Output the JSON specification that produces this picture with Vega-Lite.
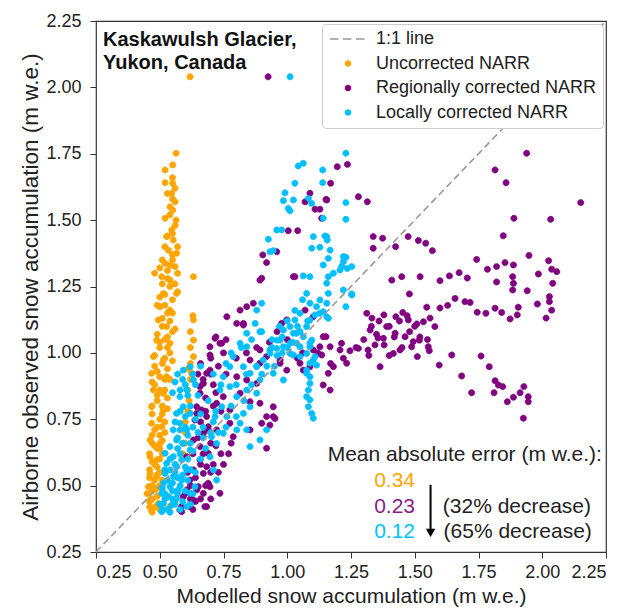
{
  "$schema": "https://vega.github.io/schema/vega-lite/v6.json",
  "width": 510,
  "height": 531,
  "autosize": "none",
  "padding": {"left": 96, "top": 21, "right": 20, "bottom": 57},
  "config": {
    "font": "Liberation Sans",
    "view": {"stroke": "#333333", "strokeWidth": 1.2},
    "axis": {
      "grid": false, "domain": false, "ticks": true, "tickSize": 6, "tickColor": "#333333",
      "labelFontSize": 18, "labelColor": "#222222", "titleColor": "#222222",
      "titleFontWeight": "normal", "labelFont": "Liberation Sans", "titleFont": "Liberation Sans"
    }
  },
  "datasets": {
    "pts": [
      {"s":"Uncorrected NARR","x":0.564,"y":1.752},{"s":"Uncorrected NARR","x":0.551,"y":1.708},{"s":"Uncorrected NARR","x":0.521,"y":1.689},{"s":"Uncorrected NARR","x":0.521,"y":1.641},{"s":"Uncorrected NARR","x":0.551,"y":1.639},{"s":"Uncorrected NARR","x":0.547,"y":1.601},{"s":"Uncorrected NARR","x":0.56,"y":1.569},{"s":"Uncorrected NARR","x":0.551,"y":1.538},{"s":"Uncorrected NARR","x":0.521,"y":1.507},{"s":"Uncorrected NARR","x":0.564,"y":1.5},{"s":"Uncorrected NARR","x":0.547,"y":1.463},{"s":"Uncorrected NARR","x":0.527,"y":1.438},{"s":"Uncorrected NARR","x":0.553,"y":1.425},{"s":"Uncorrected NARR","x":0.534,"y":1.387},{"s":"Uncorrected NARR","x":0.566,"y":1.375},{"s":"Uncorrected NARR","x":0.521,"y":1.337},{"s":"Uncorrected NARR","x":0.56,"y":1.325},{"s":"Uncorrected NARR","x":0.508,"y":1.287},{"s":"Uncorrected NARR","x":0.54,"y":1.274},{"s":"Uncorrected NARR","x":0.632,"y":1.287},{"s":"Uncorrected NARR","x":0.566,"y":1.224},{"s":"Uncorrected NARR","x":0.514,"y":1.224},{"s":"Uncorrected NARR","x":0.501,"y":1.174},{"s":"Uncorrected NARR","x":0.54,"y":1.161},{"s":"Uncorrected NARR","x":0.494,"y":1.124},{"s":"Uncorrected NARR","x":0.527,"y":1.099},{"s":"Uncorrected NARR","x":0.632,"y":1.124},{"s":"Uncorrected NARR","x":0.488,"y":1.048},{"s":"Uncorrected NARR","x":0.54,"y":1.036},{"s":"Uncorrected NARR","x":0.632,"y":1.048},{"s":"Uncorrected NARR","x":0.475,"y":0.986},{"s":"Uncorrected NARR","x":0.514,"y":0.973},{"s":"Uncorrected NARR","x":0.632,"y":0.986},{"s":"Uncorrected NARR","x":0.468,"y":0.923},{"s":"Uncorrected NARR","x":0.527,"y":0.91},{"s":"Uncorrected NARR","x":0.625,"y":0.923},{"s":"Uncorrected NARR","x":0.475,"y":0.86},{"s":"Uncorrected NARR","x":0.514,"y":0.848},{"s":"Uncorrected NARR","x":0.468,"y":0.797},{"s":"Uncorrected NARR","x":0.514,"y":0.785},{"s":"Uncorrected NARR","x":0.468,"y":0.735},{"s":"Uncorrected NARR","x":0.508,"y":0.722},{"s":"Uncorrected NARR","x":0.462,"y":0.672},{"s":"Uncorrected NARR","x":0.501,"y":0.659},{"s":"Uncorrected NARR","x":0.462,"y":0.609},{"s":"Uncorrected NARR","x":0.488,"y":0.597},{"s":"Uncorrected NARR","x":0.462,"y":0.546},{"s":"Uncorrected NARR","x":0.488,"y":0.534},{"s":"Uncorrected NARR","x":0.455,"y":0.496},{"s":"Uncorrected NARR","x":0.481,"y":0.484},{"s":"Uncorrected NARR","x":0.462,"y":0.446},{"s":"Uncorrected NARR","x":0.468,"y":0.408},{"s":"Uncorrected NARR","x":0.54,"y":0.421},{"s":"Uncorrected NARR","x":0.494,"y":0.433},{"s":"Uncorrected NARR","x":0.619,"y":2.04},
      {"s":"Uncorrected NARR","x":0.48,"y":1.3},{"s":"Uncorrected NARR","x":0.5,"y":1.32},{"s":"Uncorrected NARR","x":0.53,"y":1.28},{"s":"Uncorrected NARR","x":0.52,"y":1.22},{"s":"Uncorrected NARR","x":0.55,"y":1.2},{"s":"Uncorrected NARR","x":0.49,"y":1.18},{"s":"Uncorrected NARR","x":0.53,"y":1.15},{"s":"Uncorrected NARR","x":0.51,"y":1.1},{"s":"Uncorrected NARR","x":0.55,"y":1.08},{"s":"Uncorrected NARR","x":0.49,"y":1.07},{"s":"Uncorrected NARR","x":0.52,"y":1.05},{"s":"Uncorrected NARR","x":0.5,"y":1.02},{"s":"Uncorrected NARR","x":0.54,"y":1.0},{"s":"Uncorrected NARR","x":0.48,"y":0.99},{"s":"Uncorrected NARR","x":0.51,"y":0.96},{"s":"Uncorrected NARR","x":0.53,"y":0.94},{"s":"Uncorrected NARR","x":0.49,"y":0.93},{"s":"Uncorrected NARR","x":0.52,"y":0.9},{"s":"Uncorrected NARR","x":0.48,"y":0.88},{"s":"Uncorrected NARR","x":0.5,"y":0.86},{"s":"Uncorrected NARR","x":0.53,"y":0.83},{"s":"Uncorrected NARR","x":0.49,"y":0.82},{"s":"Uncorrected NARR","x":0.51,"y":0.8},{"s":"Uncorrected NARR","x":0.47,"y":0.77},{"s":"Uncorrected NARR","x":0.5,"y":0.75},{"s":"Uncorrected NARR","x":0.52,"y":0.74},{"s":"Uncorrected NARR","x":0.48,"y":0.71},{"s":"Uncorrected NARR","x":0.5,"y":0.69},{"s":"Uncorrected NARR","x":0.47,"y":0.66},{"s":"Uncorrected NARR","x":0.49,"y":0.64},{"s":"Uncorrected NARR","x":0.51,"y":0.62},{"s":"Uncorrected NARR","x":0.47,"y":0.59},{"s":"Uncorrected NARR","x":0.49,"y":0.57},{"s":"Uncorrected NARR","x":0.46,"y":0.56},{"s":"Uncorrected NARR","x":0.48,"y":0.52},{"s":"Uncorrected NARR","x":0.5,"y":0.5},{"s":"Uncorrected NARR","x":0.47,"y":0.48},{"s":"Uncorrected NARR","x":0.49,"y":0.46},{"s":"Uncorrected NARR","x":0.46,"y":0.44},{"s":"Uncorrected NARR","x":0.48,"y":0.42},{"s":"Uncorrected NARR","x":0.47,"y":0.4},{"s":"Uncorrected NARR","x":0.5,"y":0.41},{"s":"Uncorrected NARR","x":0.55,"y":1.45},{"s":"Uncorrected NARR","x":0.54,"y":1.55},{"s":"Uncorrected NARR","x":0.56,"y":1.62},{"s":"Uncorrected NARR","x":0.55,"y":1.35},{"s":"Uncorrected NARR","x":0.57,"y":1.4},{"s":"Uncorrected NARR","x":0.52,"y":1.4},{"s":"Uncorrected NARR","x":0.54,"y":1.33},{"s":"Uncorrected NARR","x":0.56,"y":1.26},{"s":"Uncorrected NARR","x":0.57,"y":1.23},{"s":"Uncorrected NARR","x":0.62,"y":1.02},{"s":"Uncorrected NARR","x":0.62,"y":0.96},{"s":"Uncorrected NARR","x":0.62,"y":0.9},{"s":"Uncorrected NARR","x":0.61,"y":0.86},{"s":"Uncorrected NARR","x":0.615,"y":0.82},{"s":"Uncorrected NARR","x":0.61,"y":0.78},{"s":"Uncorrected NARR","x":0.6,"y":0.74},{"s":"Uncorrected NARR","x":0.6,"y":0.7},
      {"s":"Uncorrected NARR","x":0.46,"y":0.42},{"s":"Uncorrected NARR","x":0.47,"y":0.45},{"s":"Uncorrected NARR","x":0.49,"y":0.49},{"s":"Uncorrected NARR","x":0.51,"y":0.52},{"s":"Uncorrected NARR","x":0.46,"y":0.53},{"s":"Uncorrected NARR","x":0.5,"y":0.55},{"s":"Uncorrected NARR","x":0.48,"y":0.58},{"s":"Uncorrected NARR","x":0.5,"y":0.6},{"s":"Uncorrected NARR","x":0.46,"y":0.62},{"s":"Uncorrected NARR","x":0.48,"y":0.65},{"s":"Uncorrected NARR","x":0.51,"y":0.67},{"s":"Uncorrected NARR","x":0.47,"y":0.69},{"s":"Uncorrected NARR","x":0.49,"y":0.72},{"s":"Uncorrected NARR","x":0.51,"y":0.77},{"s":"Uncorrected NARR","x":0.47,"y":0.8},{"s":"Uncorrected NARR","x":0.49,"y":0.84},{"s":"Uncorrected NARR","x":0.52,"y":0.86},{"s":"Uncorrected NARR","x":0.47,"y":0.89},{"s":"Uncorrected NARR","x":0.5,"y":0.91},{"s":"Uncorrected NARR","x":0.48,"y":0.95},{"s":"Uncorrected NARR","x":0.52,"y":0.98},{"s":"Uncorrected NARR","x":0.5,"y":1.04},{"s":"Uncorrected NARR","x":0.53,"y":1.06},{"s":"Uncorrected NARR","x":0.51,"y":1.13},{"s":"Uncorrected NARR","x":0.54,"y":1.12},{"s":"Uncorrected NARR","x":0.52,"y":1.18},{"s":"Uncorrected NARR","x":0.5,"y":1.21},{"s":"Uncorrected NARR","x":0.54,"y":1.25},{"s":"Uncorrected NARR","x":0.51,"y":1.26},{"s":"Uncorrected NARR","x":0.53,"y":1.31},{"s":"Uncorrected NARR","x":0.51,"y":1.35},{"s":"Uncorrected NARR","x":0.55,"y":1.37},{"s":"Uncorrected NARR","x":0.53,"y":1.44},{"s":"Uncorrected NARR","x":0.56,"y":1.48},{"s":"Uncorrected NARR","x":0.54,"y":1.52},{"s":"Uncorrected NARR","x":0.55,"y":1.58},{"s":"Uncorrected NARR","x":0.55,"y":1.66},{"s":"Uncorrected NARR","x":0.53,"y":1.6},{"s":"Uncorrected NARR","x":0.57,"y":1.3},{"s":"Uncorrected NARR","x":0.55,"y":1.15},{"s":"Uncorrected NARR","x":0.56,"y":1.09},{"s":"Uncorrected NARR","x":0.53,"y":1.02},{"s":"Uncorrected NARR","x":0.55,"y":0.97},{"s":"Uncorrected NARR","x":0.54,"y":0.9},{"s":"Uncorrected NARR","x":0.53,"y":0.79},{"s":"Uncorrected NARR","x":0.52,"y":0.7},{"s":"Uncorrected NARR","x":0.5,"y":0.64},{"s":"Uncorrected NARR","x":0.49,"y":0.54},{"s":"Uncorrected NARR","x":0.47,"y":0.5},{"s":"Uncorrected NARR","x":0.45,"y":0.47},{"s":"Uncorrected NARR","x":0.56,"y":0.44},{"s":"Uncorrected NARR","x":0.62,"y":1.08},{"s":"Uncorrected NARR","x":0.63,"y":1.14},{"s":"Uncorrected NARR","x":0.61,"y":0.94},{"s":"Uncorrected NARR","x":0.6,"y":0.66},{"s":"Uncorrected NARR","x":0.59,"y":0.62},
      {"s":"Regionally corrected NARR","x":1.939,"y":1.752},{"s":"Regionally corrected NARR","x":1.815,"y":1.689},{"s":"Regionally corrected NARR","x":1.858,"y":1.641},{"s":"Regionally corrected NARR","x":2.151,"y":1.566},{"s":"Regionally corrected NARR","x":1.889,"y":1.507},{"s":"Regionally corrected NARR","x":2.033,"y":1.503},{"s":"Regionally corrected NARR","x":1.847,"y":1.441},{"s":"Regionally corrected NARR","x":1.374,"y":1.432},{"s":"Regionally corrected NARR","x":1.474,"y":1.438},{"s":"Regionally corrected NARR","x":1.425,"y":1.4},{"s":"Regionally corrected NARR","x":1.514,"y":1.423},{"s":"Regionally corrected NARR","x":1.543,"y":1.413},{"s":"Regionally corrected NARR","x":1.569,"y":1.385},{"s":"Regionally corrected NARR","x":1.743,"y":1.352},{"s":"Regionally corrected NARR","x":1.948,"y":1.367},{"s":"Regionally corrected NARR","x":2.025,"y":1.347},{"s":"Regionally corrected NARR","x":1.785,"y":1.315},{"s":"Regionally corrected NARR","x":1.821,"y":1.325},{"s":"Regionally corrected NARR","x":1.854,"y":1.34},{"s":"Regionally corrected NARR","x":1.887,"y":1.331},{"s":"Regionally corrected NARR","x":1.985,"y":1.297},{"s":"Regionally corrected NARR","x":2.037,"y":1.315},{"s":"Regionally corrected NARR","x":2.057,"y":1.306},{"s":"Regionally corrected NARR","x":1.41,"y":1.274},{"s":"Regionally corrected NARR","x":1.449,"y":1.287},{"s":"Regionally corrected NARR","x":1.521,"y":1.287},{"s":"Regionally corrected NARR","x":1.599,"y":1.272},{"s":"Regionally corrected NARR","x":1.636,"y":1.29},{"s":"Regionally corrected NARR","x":1.674,"y":1.302},{"s":"Regionally corrected NARR","x":1.706,"y":1.282},{"s":"Regionally corrected NARR","x":1.821,"y":1.267},{"s":"Regionally corrected NARR","x":1.884,"y":1.287},{"s":"Regionally corrected NARR","x":1.887,"y":1.262},{"s":"Regionally corrected NARR","x":1.884,"y":1.237},{"s":"Regionally corrected NARR","x":1.941,"y":1.234},{"s":"Regionally corrected NARR","x":2.041,"y":1.262},{"s":"Regionally corrected NARR","x":2.028,"y":1.212},{"s":"Regionally corrected NARR","x":2.028,"y":1.193},{"s":"Regionally corrected NARR","x":1.479,"y":1.222},{"s":"Regionally corrected NARR","x":1.658,"y":1.205},{"s":"Regionally corrected NARR","x":1.599,"y":1.169},{"s":"Regionally corrected NARR","x":1.629,"y":1.179},{"s":"Regionally corrected NARR","x":1.697,"y":1.193},{"s":"Regionally corrected NARR","x":1.717,"y":1.19},{"s":"Regionally corrected NARR","x":1.547,"y":1.172},{"s":"Regionally corrected NARR","x":1.745,"y":1.153},{"s":"Regionally corrected NARR","x":1.779,"y":1.149},{"s":"Regionally corrected NARR","x":1.815,"y":1.168},{"s":"Regionally corrected NARR","x":1.841,"y":1.152},{"s":"Regionally corrected NARR","x":1.874,"y":1.128},{"s":"Regionally corrected NARR","x":1.902,"y":1.143},{"s":"Regionally corrected NARR","x":1.906,"y":1.172},{"s":"Regionally corrected NARR","x":1.981,"y":1.184},{"s":"Regionally corrected NARR","x":2.015,"y":1.131},{"s":"Regionally corrected NARR","x":2.037,"y":1.161},{"s":"Regionally corrected NARR","x":1.379,"y":1.143},{"s":"Regionally corrected NARR","x":1.426,"y":1.136},{"s":"Regionally corrected NARR","x":1.453,"y":1.152},{"s":"Regionally corrected NARR","x":1.475,"y":1.124},{"s":"Regionally corrected NARR","x":1.508,"y":1.109},{"s":"Regionally corrected NARR","x":1.534,"y":1.117},{"s":"Regionally corrected NARR","x":1.56,"y":1.131},{"s":"Regionally corrected NARR","x":1.579,"y":1.099},{"s":"Regionally corrected NARR","x":1.39,"y":1.099},{"s":"Regionally corrected NARR","x":1.423,"y":1.074},{"s":"Regionally corrected NARR","x":1.377,"y":1.055},{"s":"Regionally corrected NARR","x":1.462,"y":1.061},{"s":"Regionally corrected NARR","x":1.494,"y":1.042},{"s":"Regionally corrected NARR","x":1.518,"y":1.048},{"s":"Regionally corrected NARR","x":1.488,"y":1.023},{"s":"Regionally corrected NARR","x":1.553,"y":1.023},{"s":"Regionally corrected NARR","x":1.557,"y":1.008},{"s":"Regionally corrected NARR","x":1.416,"y":0.998},{"s":"Regionally corrected NARR","x":1.442,"y":1.011},{"s":"Regionally corrected NARR","x":1.51,"y":0.986},{"s":"Regionally corrected NARR","x":1.596,"y":0.954},{"s":"Regionally corrected NARR","x":1.645,"y":0.992},{"s":"Regionally corrected NARR","x":1.684,"y":0.913},{"s":"Regionally corrected NARR","x":1.723,"y":0.85},{"s":"Regionally corrected NARR","x":1.76,"y":0.988},{"s":"Regionally corrected NARR","x":1.792,"y":0.948},{"s":"Regionally corrected NARR","x":1.815,"y":0.895},{"s":"Regionally corrected NARR","x":1.828,"y":0.879},{"s":"Regionally corrected NARR","x":1.845,"y":0.873},{"s":"Regionally corrected NARR","x":1.811,"y":0.85},{"s":"Regionally corrected NARR","x":1.863,"y":0.816},{"s":"Regionally corrected NARR","x":1.887,"y":0.833},{"s":"Regionally corrected NARR","x":1.913,"y":0.85},{"s":"Regionally corrected NARR","x":1.928,"y":0.873},{"s":"Regionally corrected NARR","x":1.945,"y":0.835},{"s":"Regionally corrected NARR","x":1.945,"y":0.816},{"s":"Regionally corrected NARR","x":1.926,"y":0.754},{"s":"Regionally corrected NARR","x":1.364,"y":0.948},
      {"s":"Regionally corrected NARR","x":1.196,"y":1.701},{"s":"Regionally corrected NARR","x":1.236,"y":1.71},{"s":"Regionally corrected NARR","x":1.17,"y":1.639},{"s":"Regionally corrected NARR","x":1.089,"y":1.601},{"s":"Regionally corrected NARR","x":1.07,"y":1.569},{"s":"Regionally corrected NARR","x":1.109,"y":1.541},{"s":"Regionally corrected NARR","x":1.128,"y":1.541},{"s":"Regionally corrected NARR","x":1.152,"y":1.578},{"s":"Regionally corrected NARR","x":1.279,"y":1.588},{"s":"Regionally corrected NARR","x":1.314,"y":1.569},{"s":"Regionally corrected NARR","x":1.004,"y":1.46},{"s":"Regionally corrected NARR","x":1.041,"y":1.46},{"s":"Regionally corrected NARR","x":0.904,"y":1.369},{"s":"Regionally corrected NARR","x":0.919,"y":1.34},{"s":"Regionally corrected NARR","x":0.959,"y":1.381},{"s":"Regionally corrected NARR","x":0.893,"y":1.274},{"s":"Regionally corrected NARR","x":1.03,"y":1.287},{"s":"Regionally corrected NARR","x":1.337,"y":1.438},{"s":"Regionally corrected NARR","x":1.337,"y":1.394},{"s":"Regionally corrected NARR","x":0.867,"y":1.187},{"s":"Regionally corrected NARR","x":0.828,"y":1.111},{"s":"Regionally corrected NARR","x":0.978,"y":1.111},{"s":"Regionally corrected NARR","x":0.998,"y":1.124},{"s":"Regionally corrected NARR","x":1.152,"y":1.061},{"s":"Regionally corrected NARR","x":1.128,"y":1.023},{"s":"Regionally corrected NARR","x":1.207,"y":1.011},{"s":"Regionally corrected NARR","x":1.246,"y":1.008},{"s":"Regionally corrected NARR","x":1.279,"y":1.017},{"s":"Regionally corrected NARR","x":1.312,"y":1.149},{"s":"Regionally corrected NARR","x":1.332,"y":1.131},{"s":"Regionally corrected NARR","x":1.325,"y":1.086},{"s":"Regionally corrected NARR","x":1.344,"y":1.03},{"s":"Regionally corrected NARR","x":1.317,"y":1.011},{"s":"Regionally corrected NARR","x":1.356,"y":1.056},
      {"s":"Regionally corrected NARR","x":0.717,"y":1.055},{"s":"Regionally corrected NARR","x":0.743,"y":1.036},{"s":"Regionally corrected NARR","x":0.697,"y":1.023},{"s":"Regionally corrected NARR","x":0.697,"y":0.992},{"s":"Regionally corrected NARR","x":0.893,"y":0.961},{"s":"Regionally corrected NARR","x":0.854,"y":0.973},{"s":"Regionally corrected NARR","x":0.972,"y":0.961},{"s":"Regionally corrected NARR","x":1.141,"y":1.061},{"s":"Regionally corrected NARR","x":1.168,"y":1.023},{"s":"Regionally corrected NARR","x":1.213,"y":1.036},{"s":"Regionally corrected NARR","x":1.135,"y":0.992},{"s":"Regionally corrected NARR","x":1.233,"y":0.961},{"s":"Regionally corrected NARR","x":1.161,"y":0.923},{"s":"Regionally corrected NARR","x":1.141,"y":0.879},{"s":"Regionally corrected NARR","x":1.168,"y":0.86},{"s":"Regionally corrected NARR","x":1.063,"y":0.935},{"s":"Regionally corrected NARR","x":0.998,"y":0.935},{"s":"Regionally corrected NARR","x":0.697,"y":0.935},{"s":"Regionally corrected NARR","x":0.671,"y":0.885},{"s":"Regionally corrected NARR","x":0.658,"y":0.848},{"s":"Regionally corrected NARR","x":0.645,"y":0.797},{"s":"Regionally corrected NARR","x":0.664,"y":0.785},{"s":"Regionally corrected NARR","x":0.684,"y":0.76},{"s":"Regionally corrected NARR","x":0.638,"y":0.747},{"s":"Regionally corrected NARR","x":0.69,"y":0.722},{"s":"Regionally corrected NARR","x":0.671,"y":0.697},{"s":"Regionally corrected NARR","x":0.723,"y":0.71},{"s":"Regionally corrected NARR","x":0.775,"y":0.735},{"s":"Regionally corrected NARR","x":0.775,"y":0.785},{"s":"Regionally corrected NARR","x":0.815,"y":0.848},{"s":"Regionally corrected NARR","x":0.854,"y":0.816},{"s":"Regionally corrected NARR","x":0.893,"y":0.81},{"s":"Regionally corrected NARR","x":0.919,"y":0.76},{"s":"Regionally corrected NARR","x":0.932,"y":0.728},{"s":"Regionally corrected NARR","x":0.952,"y":0.753},{"s":"Regionally corrected NARR","x":0.919,"y":0.641},{"s":"Regionally corrected NARR","x":0.632,"y":0.672},{"s":"Regionally corrected NARR","x":0.658,"y":0.647},{"s":"Regionally corrected NARR","x":0.69,"y":0.622},{"s":"Regionally corrected NARR","x":0.658,"y":0.597},{"s":"Regionally corrected NARR","x":0.684,"y":0.571},{"s":"Regionally corrected NARR","x":0.632,"y":0.559},{"s":"Regionally corrected NARR","x":0.671,"y":0.546},{"s":"Regionally corrected NARR","x":0.619,"y":0.521},{"s":"Regionally corrected NARR","x":0.651,"y":0.496},{"s":"Regionally corrected NARR","x":0.606,"y":0.484},{"s":"Regionally corrected NARR","x":0.592,"y":0.458},{"s":"Regionally corrected NARR","x":0.632,"y":0.446},{"s":"Regionally corrected NARR","x":0.586,"y":0.421},{"s":"Regionally corrected NARR","x":0.619,"y":0.421},{"s":"Regionally corrected NARR","x":0.586,"y":0.402},{"s":"Regionally corrected NARR","x":0.671,"y":0.471},{"s":"Regionally corrected NARR","x":0.69,"y":0.509},{"s":"Regionally corrected NARR","x":0.736,"y":0.471},{"s":"Regionally corrected NARR","x":0.723,"y":0.81},{"s":"Regionally corrected NARR","x":0.749,"y":0.835},{"s":"Regionally corrected NARR","x":0.802,"y":0.91},{"s":"Regionally corrected NARR","x":0.841,"y":0.898},{"s":"Regionally corrected NARR","x":0.88,"y":0.885},{"s":"Regionally corrected NARR","x":0.945,"y":0.797},{"s":"Regionally corrected NARR","x":0.854,"y":0.71},{"s":"Regionally corrected NARR","x":0.788,"y":0.684},
      {"s":"Regionally corrected NARR","x":0.684,"y":0.923},{"s":"Regionally corrected NARR","x":0.658,"y":0.873},{"s":"Regionally corrected NARR","x":0.645,"y":0.772},{"s":"Regionally corrected NARR","x":0.606,"y":0.609},{"s":"Regionally corrected NARR","x":0.579,"y":0.408},{"s":"Regionally corrected NARR","x":0.684,"y":0.421},{"s":"Regionally corrected NARR","x":0.697,"y":0.496},{"s":"Regionally corrected NARR","x":0.645,"y":0.484},
      {"s":"Regionally corrected NARR","x":0.9,"y":1.281},{"s":"Regionally corrected NARR","x":1.024,"y":1.287},{"s":"Regionally corrected NARR","x":0.677,"y":0.421},{"s":"Regionally corrected NARR","x":0.945,"y":0.76},{"s":"Regionally corrected NARR","x":0.9,"y":0.735},{"s":"Regionally corrected NARR","x":1.181,"y":0.948},{"s":"Regionally corrected NARR","x":1.07,"y":1.161},{"s":"Regionally corrected NARR","x":1.102,"y":1.136},{"s":"Regionally corrected NARR","x":0.763,"y":1.136},{"s":"Regionally corrected NARR","x":0.815,"y":1.161},{"s":"Regionally corrected NARR","x":0.841,"y":1.174},{"s":"Regionally corrected NARR","x":0.802,"y":1.111},{"s":"Regionally corrected NARR","x":0.828,"y":1.105},{"s":"Regionally corrected NARR","x":0.736,"y":1.036},{"s":"Regionally corrected NARR","x":0.893,"y":1.011},{"s":"Regionally corrected NARR","x":0.919,"y":0.986},{"s":"Regionally corrected NARR","x":0.972,"y":0.973},{"s":"Regionally corrected NARR","x":1.05,"y":0.961},{"s":"Regionally corrected NARR","x":1.089,"y":0.948},{"s":"Regionally corrected NARR","x":1.102,"y":1.011},{"s":"Regionally corrected NARR","x":1.155,"y":1.576},{"s":"Regionally corrected NARR","x":1.135,"y":1.507},{"s":"Regionally corrected NARR","x":0.925,"y":2.04},
      {"s":"Regionally corrected NARR","x":0.62,"y":0.5},{"s":"Regionally corrected NARR","x":0.66,"y":0.58},{"s":"Regionally corrected NARR","x":0.7,"y":0.66},{"s":"Regionally corrected NARR","x":0.68,"y":0.78},{"s":"Regionally corrected NARR","x":0.72,"y":0.85},{"s":"Regionally corrected NARR","x":0.7,"y":0.92},{"s":"Regionally corrected NARR","x":0.66,"y":0.96},{"s":"Regionally corrected NARR","x":0.74,"y":0.62},{"s":"Regionally corrected NARR","x":0.78,"y":0.66},{"s":"Regionally corrected NARR","x":0.64,"y":0.44},{"s":"Regionally corrected NARR","x":0.7,"y":0.45},{"s":"Regionally corrected NARR","x":0.73,"y":0.55},{"s":"Regionally corrected NARR","x":0.76,"y":0.92},{"s":"Regionally corrected NARR","x":0.8,"y":0.98},{"s":"Regionally corrected NARR","x":0.84,"y":1.0},{"s":"Regionally corrected NARR","x":0.88,"y":1.02},{"s":"Regionally corrected NARR","x":0.93,"y":1.04},{"s":"Regionally corrected NARR","x":0.96,"y":1.08},{"s":"Regionally corrected NARR","x":1.0,"y":1.05},{"s":"Regionally corrected NARR","x":1.04,"y":0.98},{"s":"Regionally corrected NARR","x":1.06,"y":1.0},{"s":"Regionally corrected NARR","x":1.12,"y":1.0},{"s":"Regionally corrected NARR","x":1.17,"y":0.96},{"s":"Regionally corrected NARR","x":1.22,"y":0.98},{"s":"Regionally corrected NARR","x":1.27,"y":1.02},{"s":"Regionally corrected NARR","x":1.3,"y":1.05},{"s":"Regionally corrected NARR","x":1.32,"y":0.99},{"s":"Regionally corrected NARR","x":1.35,"y":1.07},{"s":"Regionally corrected NARR","x":1.36,"y":1.12},{"s":"Regionally corrected NARR","x":1.4,"y":1.1},{"s":"Regionally corrected NARR","x":1.44,"y":1.12},{"s":"Regionally corrected NARR","x":1.47,"y":1.14},{"s":"Regionally corrected NARR","x":1.5,"y":1.1},{"s":"Regionally corrected NARR","x":1.52,"y":1.06},{"s":"Regionally corrected NARR","x":1.38,"y":1.03},{"s":"Regionally corrected NARR","x":1.42,"y":1.06},{"s":"Regionally corrected NARR","x":1.48,"y":1.08},{"s":"Regionally corrected NARR","x":1.55,"y":1.05},{"s":"Regionally corrected NARR","x":1.45,"y":1.02},{"s":"Regionally corrected NARR","x":1.4,"y":0.99},{"s":"Regionally corrected NARR","x":1.33,"y":1.1},
      {"s":"Regionally corrected NARR","x":0.63,"y":0.41},{"s":"Regionally corrected NARR","x":0.66,"y":0.45},{"s":"Regionally corrected NARR","x":0.68,"y":0.5},{"s":"Regionally corrected NARR","x":0.64,"y":0.53},{"s":"Regionally corrected NARR","x":0.71,"y":0.58},{"s":"Regionally corrected NARR","x":0.67,"y":0.62},{"s":"Regionally corrected NARR","x":0.72,"y":0.65},{"s":"Regionally corrected NARR","x":0.65,"y":0.68},{"s":"Regionally corrected NARR","x":0.69,"y":0.71},{"s":"Regionally corrected NARR","x":0.66,"y":0.74},{"s":"Regionally corrected NARR","x":0.71,"y":0.8},{"s":"Regionally corrected NARR","x":0.74,"y":0.78},{"s":"Regionally corrected NARR","x":0.68,"y":0.83},{"s":"Regionally corrected NARR","x":0.71,"y":0.88},{"s":"Regionally corrected NARR","x":0.67,"y":0.9},{"s":"Regionally corrected NARR","x":0.73,"y":0.95},{"s":"Regionally corrected NARR","x":0.7,"y":0.98},{"s":"Regionally corrected NARR","x":0.65,"y":0.92},{"s":"Regionally corrected NARR","x":0.75,"y":1.0},{"s":"Regionally corrected NARR","x":0.72,"y":1.06},{"s":"Regionally corrected NARR","x":0.76,"y":1.05},{"s":"Regionally corrected NARR","x":0.62,"y":0.45},{"s":"Regionally corrected NARR","x":0.61,"y":0.55},{"s":"Regionally corrected NARR","x":0.63,"y":0.62},{"s":"Regionally corrected NARR","x":0.6,"y":0.47},{"s":"Regionally corrected NARR","x":0.75,"y":0.58},{"s":"Regionally corrected NARR","x":0.77,"y":0.62},{"s":"Regionally corrected NARR","x":0.7,"y":0.55},
      {"s":"Locally corrected NARR","x":1.23,"y":1.752},{"s":"Locally corrected NARR","x":1.043,"y":1.704},{"s":"Locally corrected NARR","x":1.063,"y":1.714},{"s":"Locally corrected NARR","x":1.139,"y":1.689},{"s":"Locally corrected NARR","x":1.139,"y":1.641},{"s":"Locally corrected NARR","x":1.03,"y":1.639},{"s":"Locally corrected NARR","x":0.991,"y":1.603},{"s":"Locally corrected NARR","x":0.985,"y":1.573},{"s":"Locally corrected NARR","x":1.024,"y":1.576},{"s":"Locally corrected NARR","x":1.004,"y":1.544},{"s":"Locally corrected NARR","x":1.011,"y":1.535},{"s":"Locally corrected NARR","x":1.083,"y":1.582},{"s":"Locally corrected NARR","x":1.096,"y":1.563},{"s":"Locally corrected NARR","x":1.23,"y":1.566},{"s":"Locally corrected NARR","x":1.141,"y":1.507},{"s":"Locally corrected NARR","x":1.23,"y":1.503},{"s":"Locally corrected NARR","x":0.959,"y":1.463},{"s":"Locally corrected NARR","x":0.978,"y":1.463},{"s":"Locally corrected NARR","x":0.926,"y":1.428},{"s":"Locally corrected NARR","x":0.932,"y":1.381},{"s":"Locally corrected NARR","x":0.945,"y":1.385},{"s":"Locally corrected NARR","x":1.102,"y":1.438},{"s":"Locally corrected NARR","x":1.148,"y":1.44},{"s":"Locally corrected NARR","x":1.157,"y":1.425},{"s":"Locally corrected NARR","x":1.096,"y":1.394},{"s":"Locally corrected NARR","x":1.128,"y":1.398},{"s":"Locally corrected NARR","x":1.168,"y":1.387},{"s":"Locally corrected NARR","x":1.161,"y":1.356},{"s":"Locally corrected NARR","x":1.141,"y":1.331},{"s":"Locally corrected NARR","x":1.23,"y":1.36},{"s":"Locally corrected NARR","x":1.22,"y":1.343},{"s":"Locally corrected NARR","x":1.235,"y":1.318},{"s":"Locally corrected NARR","x":1.207,"y":1.312},{"s":"Locally corrected NARR","x":1.181,"y":1.3},{"s":"Locally corrected NARR","x":1.161,"y":1.287},{"s":"Locally corrected NARR","x":1.063,"y":1.29},{"s":"Locally corrected NARR","x":1.089,"y":1.287},{"s":"Locally corrected NARR","x":1.155,"y":1.262},{"s":"Locally corrected NARR","x":1.076,"y":1.224},{"s":"Locally corrected NARR","x":1.161,"y":1.224},{"s":"Locally corrected NARR","x":1.253,"y":1.222},{"s":"Locally corrected NARR","x":1.23,"y":1.174},{"s":"Locally corrected NARR","x":1.155,"y":1.187},{"s":"Locally corrected NARR","x":1.128,"y":1.199},{"s":"Locally corrected NARR","x":1.115,"y":1.174},{"s":"Locally corrected NARR","x":1.141,"y":1.155},{"s":"Locally corrected NARR","x":1.161,"y":1.13},{"s":"Locally corrected NARR","x":1.109,"y":1.143},{"s":"Locally corrected NARR","x":1.089,"y":1.124},{"s":"Locally corrected NARR","x":1.076,"y":1.099},{"s":"Locally corrected NARR","x":1.05,"y":1.149},{"s":"Locally corrected NARR","x":1.03,"y":1.124},{"s":"Locally corrected NARR","x":1.011,"y":1.099},{"s":"Locally corrected NARR","x":0.985,"y":1.086},{"s":"Locally corrected NARR","x":1.037,"y":1.074},{"s":"Locally corrected NARR","x":1.063,"y":1.061},{"s":"Locally corrected NARR","x":1.096,"y":1.048},{"s":"Locally corrected NARR","x":1.05,"y":1.023},{"s":"Locally corrected NARR","x":1.011,"y":1.036},{"s":"Locally corrected NARR","x":0.972,"y":1.048},{"s":"Locally corrected NARR","x":0.959,"y":1.017},{"s":"Locally corrected NARR","x":0.932,"y":0.998},{"s":"Locally corrected NARR","x":1.076,"y":0.998},{"s":"Locally corrected NARR","x":1.024,"y":0.992},{"s":"Locally corrected NARR","x":0.9,"y":1.187},{"s":"Locally corrected NARR","x":0.88,"y":1.161},{"s":"Locally corrected NARR","x":0.874,"y":1.111},{"s":"Locally corrected NARR","x":0.841,"y":1.074},{"s":"Locally corrected NARR","x":0.893,"y":1.08},
      {"s":"Locally corrected NARR","x":1.155,"y":1.438},{"s":"Locally corrected NARR","x":1.22,"y":1.363},{"s":"Locally corrected NARR","x":1.253,"y":1.325},{"s":"Locally corrected NARR","x":1.213,"y":1.325},{"s":"Locally corrected NARR","x":1.22,"y":1.237},{"s":"Locally corrected NARR","x":1.253,"y":1.218},{"s":"Locally corrected NARR","x":1.089,"y":1.187},{"s":"Locally corrected NARR","x":1.128,"y":1.149},{"s":"Locally corrected NARR","x":1.155,"y":1.136},{"s":"Locally corrected NARR","x":1.089,"y":1.023},{"s":"Locally corrected NARR","x":1.089,"y":0.961},{"s":"Locally corrected NARR","x":1.089,"y":0.91},{"s":"Locally corrected NARR","x":1.083,"y":0.86},{"s":"Locally corrected NARR","x":1.089,"y":0.823},{"s":"Locally corrected NARR","x":1.096,"y":0.772},{"s":"Locally corrected NARR","x":1.102,"y":0.754},{"s":"Locally corrected NARR","x":1.076,"y":0.935},{"s":"Locally corrected NARR","x":1.109,"y":0.986},{"s":"Locally corrected NARR","x":1.115,"y":0.954},
      {"s":"Locally corrected NARR","x":1.024,"y":1.074},{"s":"Locally corrected NARR","x":1.089,"y":1.036},{"s":"Locally corrected NARR","x":1.037,"y":1.036},{"s":"Locally corrected NARR","x":0.985,"y":1.023},{"s":"Locally corrected NARR","x":0.959,"y":1.048},{"s":"Locally corrected NARR","x":0.932,"y":1.011},{"s":"Locally corrected NARR","x":1.011,"y":0.998},{"s":"Locally corrected NARR","x":1.05,"y":0.986},{"s":"Locally corrected NARR","x":1.102,"y":0.973},{"s":"Locally corrected NARR","x":1.076,"y":0.923},{"s":"Locally corrected NARR","x":1.089,"y":0.885},{"s":"Locally corrected NARR","x":1.076,"y":0.835},{"s":"Locally corrected NARR","x":1.083,"y":0.797},{"s":"Locally corrected NARR","x":0.906,"y":0.973},{"s":"Locally corrected NARR","x":0.88,"y":0.948},{"s":"Locally corrected NARR","x":0.945,"y":0.923},{"s":"Locally corrected NARR","x":0.985,"y":0.898},{"s":"Locally corrected NARR","x":0.893,"y":0.898},{"s":"Locally corrected NARR","x":0.854,"y":0.923},{"s":"Locally corrected NARR","x":0.828,"y":0.948},{"s":"Locally corrected NARR","x":0.815,"y":1.036},{"s":"Locally corrected NARR","x":0.841,"y":1.023},{"s":"Locally corrected NARR","x":0.788,"y":0.986},{"s":"Locally corrected NARR","x":0.775,"y":0.948},{"s":"Locally corrected NARR","x":0.749,"y":0.91},{"s":"Locally corrected NARR","x":0.736,"y":0.86},{"s":"Locally corrected NARR","x":0.775,"y":0.873},{"s":"Locally corrected NARR","x":0.802,"y":0.835},{"s":"Locally corrected NARR","x":0.841,"y":0.86},{"s":"Locally corrected NARR","x":0.88,"y":0.848},{"s":"Locally corrected NARR","x":0.854,"y":0.797},{"s":"Locally corrected NARR","x":0.828,"y":0.772},{"s":"Locally corrected NARR","x":0.815,"y":0.735},{"s":"Locally corrected NARR","x":0.841,"y":0.71},{"s":"Locally corrected NARR","x":0.802,"y":0.71},{"s":"Locally corrected NARR","x":0.763,"y":0.76},{"s":"Locally corrected NARR","x":0.743,"y":0.797},{"s":"Locally corrected NARR","x":0.717,"y":0.76},{"s":"Locally corrected NARR","x":0.749,"y":0.697},{"s":"Locally corrected NARR","x":0.723,"y":0.659},{"s":"Locally corrected NARR","x":0.703,"y":0.684},{"s":"Locally corrected NARR","x":0.854,"y":0.647},{"s":"Locally corrected NARR","x":0.893,"y":0.672},{"s":"Locally corrected NARR","x":0.919,"y":0.71},{"s":"Locally corrected NARR","x":0.697,"y":0.609},{"s":"Locally corrected NARR","x":0.71,"y":0.559},{"s":"Locally corrected NARR","x":0.723,"y":0.521},{"s":"Locally corrected NARR","x":0.619,"y":0.948},{"s":"Locally corrected NARR","x":0.592,"y":0.935},{"s":"Locally corrected NARR","x":0.632,"y":0.898},{"s":"Locally corrected NARR","x":0.606,"y":0.86},{"s":"Locally corrected NARR","x":0.579,"y":0.835},{"s":"Locally corrected NARR","x":0.592,"y":0.797},{"s":"Locally corrected NARR","x":0.566,"y":0.772},{"s":"Locally corrected NARR","x":0.619,"y":0.772},{"s":"Locally corrected NARR","x":0.579,"y":0.735},{"s":"Locally corrected NARR","x":0.606,"y":0.71},{"s":"Locally corrected NARR","x":0.553,"y":0.71},{"s":"Locally corrected NARR","x":0.566,"y":0.672},{"s":"Locally corrected NARR","x":0.592,"y":0.659},{"s":"Locally corrected NARR","x":0.54,"y":0.647},{"s":"Locally corrected NARR","x":0.619,"y":0.634},{"s":"Locally corrected NARR","x":0.553,"y":0.609},{"s":"Locally corrected NARR","x":0.586,"y":0.597},{"s":"Locally corrected NARR","x":0.527,"y":0.584},{"s":"Locally corrected NARR","x":0.566,"y":0.571},{"s":"Locally corrected NARR","x":0.606,"y":0.559},{"s":"Locally corrected NARR","x":0.521,"y":0.546},{"s":"Locally corrected NARR","x":0.553,"y":0.534},{"s":"Locally corrected NARR","x":0.586,"y":0.521},{"s":"Locally corrected NARR","x":0.514,"y":0.509},{"s":"Locally corrected NARR","x":0.54,"y":0.496},{"s":"Locally corrected NARR","x":0.573,"y":0.484},{"s":"Locally corrected NARR","x":0.508,"y":0.471},{"s":"Locally corrected NARR","x":0.534,"y":0.458},{"s":"Locally corrected NARR","x":0.566,"y":0.452},{"s":"Locally corrected NARR","x":0.514,"y":0.433},{"s":"Locally corrected NARR","x":0.547,"y":0.427},{"s":"Locally corrected NARR","x":0.508,"y":0.402},{"s":"Locally corrected NARR","x":0.606,"y":0.421},{"s":"Locally corrected NARR","x":0.638,"y":0.496},{"s":"Locally corrected NARR","x":0.619,"y":0.471},{"s":"Locally corrected NARR","x":0.54,"y":0.559},{"s":"Locally corrected NARR","x":0.521,"y":0.622},
      {"s":"Locally corrected NARR","x":0.52,"y":0.45},{"s":"Locally corrected NARR","x":0.55,"y":0.48},{"s":"Locally corrected NARR","x":0.58,"y":0.5},{"s":"Locally corrected NARR","x":0.53,"y":0.52},{"s":"Locally corrected NARR","x":0.56,"y":0.55},{"s":"Locally corrected NARR","x":0.6,"y":0.57},{"s":"Locally corrected NARR","x":0.54,"y":0.6},{"s":"Locally corrected NARR","x":0.58,"y":0.62},{"s":"Locally corrected NARR","x":0.62,"y":0.66},{"s":"Locally corrected NARR","x":0.57,"y":0.68},{"s":"Locally corrected NARR","x":0.6,"y":0.72},{"s":"Locally corrected NARR","x":0.64,"y":0.75},{"s":"Locally corrected NARR","x":0.58,"y":0.78},{"s":"Locally corrected NARR","x":0.62,"y":0.8},{"s":"Locally corrected NARR","x":0.65,"y":0.84},{"s":"Locally corrected NARR","x":0.6,"y":0.88},{"s":"Locally corrected NARR","x":0.63,"y":0.92},{"s":"Locally corrected NARR","x":0.66,"y":0.95},{"s":"Locally corrected NARR","x":0.57,"y":0.92},{"s":"Locally corrected NARR","x":0.55,"y":0.85},{"s":"Locally corrected NARR","x":0.51,"y":0.49},{"s":"Locally corrected NARR","x":0.53,"y":0.41},{"s":"Locally corrected NARR","x":0.56,"y":0.43},{"s":"Locally corrected NARR","x":0.59,"y":0.44},{"s":"Locally corrected NARR","x":0.63,"y":0.47},{"s":"Locally corrected NARR","x":0.61,"y":0.52},{"s":"Locally corrected NARR","x":0.64,"y":0.55},{"s":"Locally corrected NARR","x":0.66,"y":0.6},{"s":"Locally corrected NARR","x":0.68,"y":0.64},{"s":"Locally corrected NARR","x":0.7,"y":0.7},{"s":"Locally corrected NARR","x":0.67,"y":0.72},{"s":"Locally corrected NARR","x":0.72,"y":0.78},{"s":"Locally corrected NARR","x":0.69,"y":0.82},{"s":"Locally corrected NARR","x":0.74,"y":0.88},{"s":"Locally corrected NARR","x":0.71,"y":0.92},{"s":"Locally corrected NARR","x":0.76,"y":0.96},{"s":"Locally corrected NARR","x":0.78,"y":1.0},{"s":"Locally corrected NARR","x":0.82,"y":1.02},{"s":"Locally corrected NARR","x":0.86,"y":1.05},{"s":"Locally corrected NARR","x":0.9,"y":1.08},{"s":"Locally corrected NARR","x":0.94,"y":1.05},{"s":"Locally corrected NARR","x":0.97,"y":1.1},{"s":"Locally corrected NARR","x":1.0,"y":1.12},{"s":"Locally corrected NARR","x":1.03,"y":1.16},{"s":"Locally corrected NARR","x":1.06,"y":1.2},{"s":"Locally corrected NARR","x":1.0,"y":1.02},{"s":"Locally corrected NARR","x":0.96,"y":0.99},{"s":"Locally corrected NARR","x":0.88,"y":0.95},{"s":"Locally corrected NARR","x":0.84,"y":0.92},{"s":"Locally corrected NARR","x":0.8,"y":0.88},{"s":"Locally corrected NARR","x":1.011,"y":2.04},
      {"s":"Locally corrected NARR","x":0.5,"y":0.43},{"s":"Locally corrected NARR","x":0.52,"y":0.47},{"s":"Locally corrected NARR","x":0.55,"y":0.45},{"s":"Locally corrected NARR","x":0.57,"y":0.47},{"s":"Locally corrected NARR","x":0.6,"y":0.48},{"s":"Locally corrected NARR","x":0.55,"y":0.51},{"s":"Locally corrected NARR","x":0.57,"y":0.53},{"s":"Locally corrected NARR","x":0.52,"y":0.56},{"s":"Locally corrected NARR","x":0.59,"y":0.54},{"s":"Locally corrected NARR","x":0.62,"y":0.56},{"s":"Locally corrected NARR","x":0.56,"y":0.58},{"s":"Locally corrected NARR","x":0.61,"y":0.6},{"s":"Locally corrected NARR","x":0.57,"y":0.64},{"s":"Locally corrected NARR","x":0.63,"y":0.63},{"s":"Locally corrected NARR","x":0.59,"y":0.66},{"s":"Locally corrected NARR","x":0.61,"y":0.69},{"s":"Locally corrected NARR","x":0.58,"y":0.71},{"s":"Locally corrected NARR","x":0.63,"y":0.72},{"s":"Locally corrected NARR","x":0.6,"y":0.76},{"s":"Locally corrected NARR","x":0.56,"y":0.74},{"s":"Locally corrected NARR","x":0.61,"y":0.84},{"s":"Locally corrected NARR","x":0.58,"y":0.86},{"s":"Locally corrected NARR","x":0.64,"y":0.88},{"s":"Locally corrected NARR","x":0.59,"y":0.9},{"s":"Locally corrected NARR","x":0.56,"y":0.89},{"s":"Locally corrected NARR","x":0.65,"y":0.7},{"s":"Locally corrected NARR","x":0.66,"y":0.77},{"s":"Locally corrected NARR","x":0.67,"y":0.68},{"s":"Locally corrected NARR","x":0.71,"y":0.74},{"s":"Locally corrected NARR","x":0.73,"y":0.7},{"s":"Locally corrected NARR","x":0.76,"y":0.72},{"s":"Locally corrected NARR","x":0.78,"y":0.8},{"s":"Locally corrected NARR","x":0.8,"y":0.76},{"s":"Locally corrected NARR","x":0.83,"y":0.82},{"s":"Locally corrected NARR","x":0.86,"y":0.88},{"s":"Locally corrected NARR","x":0.9,"y":0.92},{"s":"Locally corrected NARR","x":0.92,"y":0.95},{"s":"Locally corrected NARR","x":0.95,"y":0.95},{"s":"Locally corrected NARR","x":0.98,"y":1.0},{"s":"Locally corrected NARR","x":1.02,"y":1.04},{"s":"Locally corrected NARR","x":1.05,"y":1.08},{"s":"Locally corrected NARR","x":1.08,"y":1.12},{"s":"Locally corrected NARR","x":1.04,"y":1.1},{"s":"Locally corrected NARR","x":0.98,"y":1.06},{"s":"Locally corrected NARR","x":0.94,"y":1.02},{"s":"Locally corrected NARR","x":0.51,"y":0.41},{"s":"Locally corrected NARR","x":0.54,"y":0.4},{"s":"Locally corrected NARR","x":0.58,"y":0.41},{"s":"Locally corrected NARR","x":0.62,"y":0.43}
    ],
    "one": [{}]
  },
  "layer": [
    {
      "data": {"name": "pts"},
      "mark": {"type": "point", "filled": true, "size": 35, "opacity": 1, "strokeWidth": 1},
      "encoding": {
        "x": {"field": "x", "type": "quantitative",
          "scale": {"domain": [0.25, 2.25], "nice": false, "zero": false},
          "axis": {"values": [0.25, 0.5, 0.75, 1.0, 1.25, 1.5, 1.75, 2.0, 2.25], "format": ".2f", "labelPadding": 5, "title": "Modelled snow accumulation (m w.e.)", "titleFontSize": 21, "titlePadding": 4}},
        "y": {"field": "y", "type": "quantitative",
          "scale": {"domain": [0.25, 2.25], "nice": false, "zero": false},
          "axis": {"values": [0.25, 0.5, 0.75, 1.0, 1.25, 1.5, 1.75, 2.0, 2.25], "format": ".2f", "labelPadding": 9, "title": "Airborne observed snow accumulation (m w.e.)", "titleFontSize": 22.5, "titlePadding": 3}},
        "color": {"field": "s", "type": "nominal",
          "scale": {"domain": ["1:1 line", "Uncorrected NARR", "Regionally corrected NARR", "Locally corrected NARR"], "range": ["#999999", "#FFA500", "#800080", "#00BFFF"]},
          "legend": {
            "title": null, "orient": "none", "legendX": 226, "legendY": 3,
            "labelFontSize": 18, "labelColor": "#222222", "labelFont": "Liberation Sans", "labelLimit": 400,
            "padding": 6, "rowPadding": 6.5, "symbolOffset": 11, "labelOffset": 19,
            "strokeColor": "#cccccc", "fillColor": "white", "cornerRadius": 4,
            "symbolSize": 24, "symbolStrokeWidth": 1.6, "symbolOpacity": 1
          }},
        "stroke": {"field": "s", "type": "nominal",
          "scale": {"domain": ["1:1 line", "Uncorrected NARR", "Regionally corrected NARR", "Locally corrected NARR"], "range": ["#999999", "#FFA500", "#800080", "#00BFFF"]},
          "legend": {"title": null}},
        "shape": {"field": "s", "type": "nominal",
          "scale": {"domain": ["1:1 line", "Uncorrected NARR", "Regionally corrected NARR", "Locally corrected NARR"], "range": ["M-7.4,0L7.4,0", "circle", "circle", "circle"]},
          "legend": {"title": null}},
        "strokeDash": {"field": "s", "type": "nominal",
          "scale": {"domain": ["1:1 line", "Uncorrected NARR", "Regionally corrected NARR", "Locally corrected NARR"], "range": [[8.5, 4.5], [1, 0], [1, 0], [1, 0]]},
          "legend": {"title": null}}
      }
    },
    {
      "data": {"name": "one"},
      "mark": {"type": "rule", "strokeDash": [7, 4], "strokeWidth": 1.6, "color": "#999999"},
      "encoding": {
        "x": {"datum": 0.25, "type": "quantitative"},
        "y": {"datum": 0.25, "type": "quantitative"},
        "x2": {"datum": 2.25},
        "y2": {"datum": 2.25}
      }
    },
    {
      "data": {"name": "one"},
      "mark": {"type": "text", "align": "left", "baseline": "top", "fontSize": 20, "fontWeight": "bold", "lineHeight": 23, "color": "#111111", "text": ["Kaskawulsh Glacier,", "Yukon, Canada"]},
      "encoding": {"x": {"datum": 0.2775, "type": "quantitative"}, "y": {"datum": 2.216, "type": "quantitative"}}
    },
    {
      "data": {"name": "one"},
      "mark": {"type": "text", "align": "right", "baseline": "middle", "fontSize": 21, "color": "#222222", "text": "Mean absolute error (m w.e.):"},
      "encoding": {"x": {"datum": 2.234, "type": "quantitative"}, "y": {"datum": 0.615, "type": "quantitative"}}
    },
    {
      "data": {"name": "one"},
      "mark": {"type": "text", "align": "right", "baseline": "middle", "fontSize": 21, "color": "#FFA500", "text": "0.34"},
      "encoding": {"x": {"datum": 1.501, "type": "quantitative"}, "y": {"datum": 0.519, "type": "quantitative"}}
    },
    {
      "data": {"name": "one"},
      "mark": {"type": "text", "align": "right", "baseline": "middle", "fontSize": 21, "color": "#8B1A8B", "text": "0.23"},
      "encoding": {"x": {"datum": 1.501, "type": "quantitative"}, "y": {"datum": 0.418, "type": "quantitative"}}
    },
    {
      "data": {"name": "one"},
      "mark": {"type": "text", "align": "right", "baseline": "middle", "fontSize": 21, "color": "#00BFFF", "text": "0.12"},
      "encoding": {"x": {"datum": 1.501, "type": "quantitative"}, "y": {"datum": 0.326, "type": "quantitative"}}
    },
    {
      "data": {"name": "one"},
      "mark": {"type": "text", "align": "left", "baseline": "middle", "fontSize": 21, "color": "#222222", "text": "(32% decrease)"},
      "encoding": {"x": {"datum": 1.61, "type": "quantitative"}, "y": {"datum": 0.418, "type": "quantitative"}}
    },
    {
      "data": {"name": "one"},
      "mark": {"type": "text", "align": "left", "baseline": "middle", "fontSize": 21, "color": "#222222", "text": "(65% decrease)"},
      "encoding": {"x": {"datum": 1.613, "type": "quantitative"}, "y": {"datum": 0.326, "type": "quantitative"}}
    },
    {
      "data": {"name": "one"},
      "mark": {"type": "rule", "color": "#000000", "strokeWidth": 2},
      "encoding": {"x": {"datum": 1.562, "type": "quantitative"}, "y": {"datum": 0.503, "type": "quantitative"}, "y2": {"datum": 0.33}}
    },
    {
      "data": {"name": "one"},
      "mark": {"type": "point", "shape": "triangle-down", "filled": true, "size": 90, "color": "#000000", "opacity": 1},
      "encoding": {"x": {"datum": 1.562, "type": "quantitative"}, "y": {"datum": 0.322, "type": "quantitative"}}
    }
  ]
}
